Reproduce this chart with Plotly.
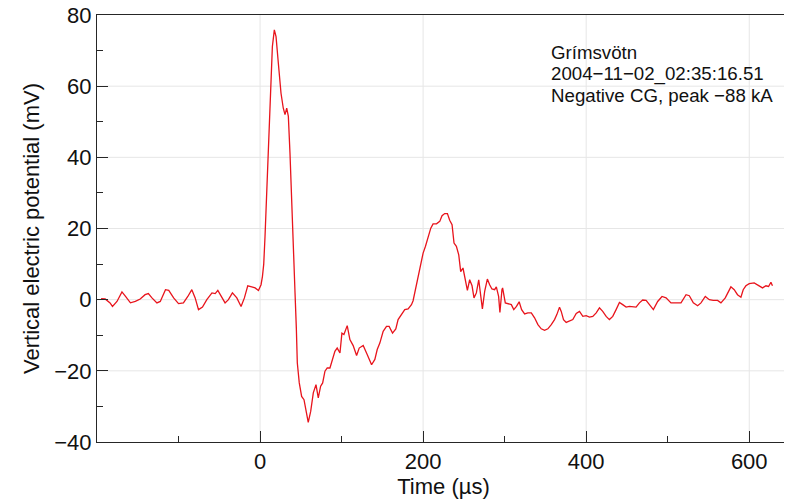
import plotly.graph_objects as go

time_us = [-195, -190, -184, -181, -175.5, -169.4, -165, -159, -153, -147, -141, -137, -132.6, -126.5, -122.4,
           -116, -112, -106, -100, -94, -88.6, -83.7, -79.6, -75.5, -70.6, -65.3, -59, -55, -51.8, -46.9,
           -42.9, -38.8, -33.9, -28.5, -23.3, -19.2, -15.1, -10.2, -6.1, -2.0, 1.2, 2.9, 4.5, 6.1, 9.4,
           12.2, 15.1, 17.5, 19.6, 22.4, 25.7, 28.5, 30.6, 32.7, 34.7, 36.7, 38.8, 40.8, 42.9, 44.5,
           45.7, 48.1, 51, 53.9, 56.3, 59.1, 62.1, 65.3, 68.6, 71.4, 74.3, 76.8, 79.6, 82.4, 85.7,
           89, 91.8, 94.6, 98, 100.4, 102.9, 106.9, 110.2, 114.2, 118.4, 121.6, 126.5, 131.4, 136.8, 140.8,
           143.7, 146.9, 151, 155.1, 158.3, 162.5, 166.5, 169.3, 173.5, 177.5, 181.6, 185.7, 187.7, 190.6, 193.8,
           197.1, 200, 202.9, 206.1, 209.4, 212.2, 216.4, 220.4, 223.2, 226.5, 229.8, 232.6, 235.5, 237.9, 240.8,
           243.7, 246.1, 248.9, 251.9, 254.3, 257.1, 260, 262.4, 265.3, 268.2, 270.6, 272.7, 275.5, 278.8, 281.6,
           284.4, 287.7, 289.8, 292.6, 294.2, 296.7, 297.5, 300.8, 304, 308.2, 311.2, 314.5, 317.8, 320.8, 324.5,
           328.5, 332.7, 336.7, 340.8, 344.9, 349, 353, 357.2, 361.2, 364, 367.3, 369.4, 372.2, 375.5, 379.6,
           383.6, 387.8, 391.8, 395.9, 400, 404, 408.1, 412.3, 416.3, 420.3, 424.5, 428.5, 432.6, 436.7, 440.8,
           444.8, 449, 453, 457.1, 461.2, 465.3, 469.3, 473.5, 477.5, 482.4, 487.7, 493, 498, 504, 510.2,
           516.3, 522.5, 526.5, 531.4, 536.7, 540.8, 546.1, 551, 555.9, 561.2, 565.3, 570.6, 573.4, 577.5, 581.6,
           585.6, 589.8, 592.6, 595.9, 600, 606.1, 610.2, 616.3, 620.5, 623.7, 626.6, 628.5]

potential_mV = [0.3, 0.2, -0.9, -1.9, -0.5, 2.2, 0.9, -0.9, -0.5, 0.2, 1.4, 1.7, 0.5, -0.9, -0.5,
                2.8, 2.6, 0.5, -1.1, -0.9, 0.9, 2.8, 0.5, -2.8, -2.1, 0.0, 1.9, 1.7, 2.6, 0.5,
                -0.9, 0.0, 1.9, 0.5, -1.9, 0.5, 3.9, 3.6, 3.3, 2.6, 4.2, 6.5, 10, 17.8, 36.5,
                55.2, 71.1, 75.8, 73.9, 66.5, 58.0, 53.8, 52, 53.8, 51.5, 41.2, 26.2, 11.2, 1.9, -8,
                -17.8, -23.4, -27.2, -28.1, -30.9, -34.5, -31.4, -26.2, -23.9, -27.6, -24.3, -23.4, -20.1, -19.2, -19.2,
                -16.8, -14.5, -13.6, -15, -9.4, -9.8, -7.3, -11.2, -12.9, -15.7, -13.6, -12.9, -15.4, -18.3, -16.8,
                -14, -12.2, -8.9, -7.5, -7.5, -9.4, -8.2, -5.6, -4.2, -2.8, -2.6, -1.4, -0.3, 2.8, 6.5,
                10.3, 13.1, 15, 17.3, 20.1, 21.3, 21.3, 22, 23.6, 24.2, 24.2, 22.3, 21.1, 15.9, 15,
                12.6, 7.9, 8.9, 5.6, 2.6, 5.6, 3.9, 0.5, 1.9, 5.6, 0.9, -2.6, 2.3, 5.8, 4.2,
                3.0, 2.8, 3.6, 0.9, -3.6, 2.8, 3.3, -0.9, -1.1, -1.4, -2.8, -1.9, -0.6, -2.8, -4.0,
                -3.7, -3.7, -5.1, -7, -8.2, -8.6, -8.2, -7, -5.6, -4.2, -2.1, -3.3, -5.6, -6.4, -6.1,
                -5.6, -3.9, -3.3, -4.7, -4.5, -4.9, -4.7, -3.7, -2.3, -3.3, -4.7, -5.6, -4.7, -2.8, -0.8,
                -1.4, -2.1, -1.9, -1.9, -2.1, -0.9, -0.1, -0.2, -1.4, -2.8, -0.5, 0.9, 0.5, -0.9, -0.9,
                -0.9, 1.4, 1.1, -0.9, -1.7, -0.9, 0.9, 0.0, -0.2, -0.2, -0.9, 0.5, 1.9, 3.6, 2.8,
                1.4, 0.7, 2.8, 3.9, 4.5, 4.7, 4.2, 3.3, 3.9, 3.7, 4.9, 3.9]

info_lines = ["Grímsvötn", "2004−11−02_02:35:16.51", "Negative CG, peak −88 kA"]
x_ticks = [0, 200, 400, 600]
y_ticks = [-40, -20, 0, 20, 40, 60, 80]
x_range = [-200, 650]
y_range = [-40, 80]

FONT = "Liberation Sans, Arial, sans-serif"
AXC = "#262626"
GRID = "#e6e6e6"

fig = go.Figure()
fig.add_trace(go.Scatter(x=time_us, y=potential_mV, mode="lines",
                         line=dict(color="#e8141c", width=1.3), showlegend=False,
                         hoverinfo="skip"))

# main axes: frame line, labels, major + minor inside ticks
common = dict(showline=True, linecolor=AXC, linewidth=1, mirror=True,
              ticks="inside", ticklen=11, tickwidth=1, tickcolor=AXC,
              showgrid=False, zeroline=False,
              automargin=False, ticklabeloverflow="allow",
              tickfont=dict(family=FONT, size=22, color="#111"))

fig.update_xaxes(range=x_range, tickvals=x_ticks,
                 minor=dict(dtick=100, tick0=0, ticks="inside", ticklen=6, tickcolor=AXC, showgrid=False),
                 title=dict(text="Time (µs)", font=dict(family=FONT, size=22, color="#111"), standoff=2),
                 **common)
fig.update_yaxes(range=y_range, tickvals=y_ticks,
                 minor=dict(dtick=10, tick0=0, ticks="inside", ticklen=6, tickcolor=AXC, showgrid=False),
                 title=dict(text="Vertical electric potential (mV)", font=dict(family=FONT, size=22, color="#111"), standoff=8),
                 **common)

# overlay axes carrying the opposite-side (top / right) ticks
tick_only = dict(showline=False, showgrid=False, zeroline=False, showticklabels=False,
                 ticks="inside", ticklen=11, tickwidth=1, tickcolor=AXC, automargin=False)
fig.update_layout(
    xaxis2=dict(overlaying="x", anchor="y", side="top", range=x_range, tickvals=x_ticks,
                minor=dict(dtick=100, tick0=0, ticks="inside", ticklen=6, tickcolor=AXC, showgrid=False),
                **tick_only),
    yaxis2=dict(overlaying="y", anchor="x", side="right", range=y_range, tickvals=y_ticks,
                minor=dict(dtick=10, tick0=0, ticks="inside", ticklen=6, tickcolor=AXC, showgrid=False),
                **tick_only),
)

# light grid at the major tick values, drawn beneath the trace and the ticks
for xv in x_ticks:
    fig.add_shape(type="line", xref="x", yref="paper", x0=xv, x1=xv, y0=0, y1=1,
                  line=dict(color=GRID, width=1), layer="below")
for yv in y_ticks[1:-1]:
    fig.add_shape(type="line", xref="paper", yref="y", x0=0, x1=1, y0=yv, y1=yv,
                  line=dict(color=GRID, width=1), layer="below")

ys = [0.912, 0.8615, 0.811]
for txt, yy in zip(info_lines, ys):
    fig.add_annotation(text=txt, xref="paper", yref="paper", x=0.652, y=yy,
                       xanchor="left", yanchor="middle", showarrow=False,
                       font=dict(family=FONT, size=18.7, color="#111"))

# page body has an 8px default margin, so the figure is sized/offset to compensate
fig.update_layout(template="none", width=784, height=494, margin=dict(l=89, r=2, t=7, b=60),
                  plot_bgcolor="white", paper_bgcolor="white",
                  font=dict(family=FONT))

fig.write_html("out.html")
